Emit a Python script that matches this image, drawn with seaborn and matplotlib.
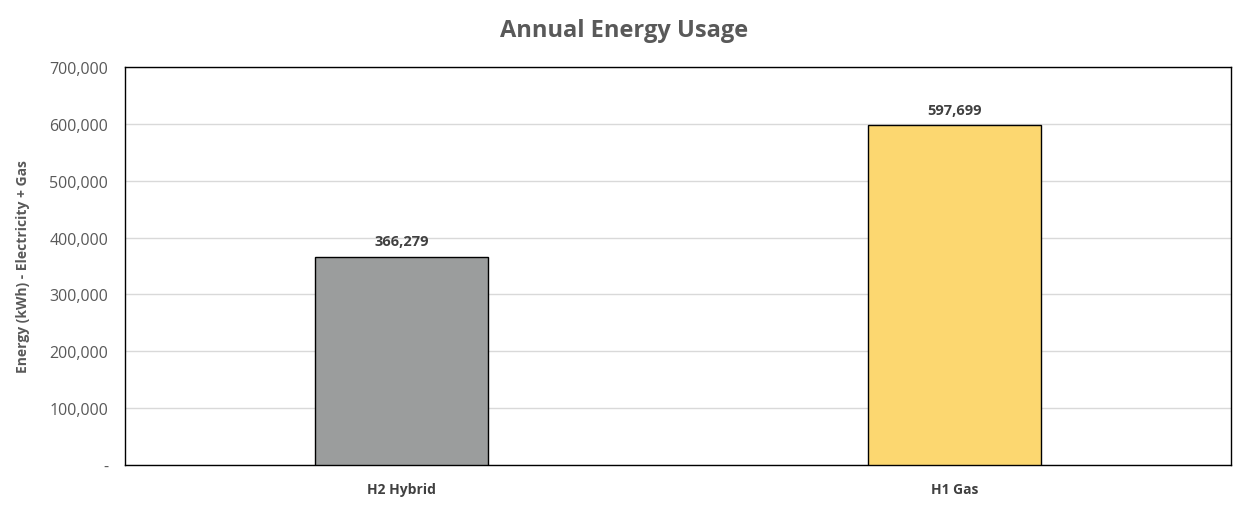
import numpy as np
import pandas as pd
import seaborn as sns
import matplotlib.pyplot as plt
from matplotlib.ticker import FuncFormatter

# chart data
categories = ['H2 Hybrid', 'H1 Gas']
energy_kwh = [366279, 597699]
bar_colors = ['#9B9D9D', '#FCD770']

sns.set_theme(style='white')
plt.rcParams['font.family'] = ['Open Sans', 'DejaVu Sans']

df = pd.DataFrame({'case': categories, 'energy': energy_kwh})

fig = plt.figure(figsize=(12.48, 5.06), dpi=100)
ax = fig.add_axes([125 / 1248, 1 - 466 / 506, 1106 / 1248, 398 / 506])

sns.barplot(data=df, x='case', y='energy', hue='case', palette=bar_colors,
            saturation=1, width=0.313, edgecolor='black', linewidth=1.0,
            legend=False, ax=ax, zorder=3)

ax.set_ylim(0, 700000)
ax.set_xlim(-0.5, 1.5)
ax.set_yticks(np.arange(0, 700001, 100000))
ax.yaxis.set_major_formatter(FuncFormatter(lambda v, p: '-' if v == 0 else f'{int(v):,}'))
ax.grid(axis='y', color='#D9D9D9', linewidth=1.0, zorder=0)
ax.set_axisbelow(True)

for s in ax.spines.values():
    s.set_visible(True)
    s.set_color('black')
    s.set_linewidth(1.0)

ax.tick_params(axis='y', labelsize=11.5, colors='#595959', length=0, pad=12)
ax.tick_params(axis='x', labelsize=10, colors='#404040', length=0, pad=12)
for lbl in ax.get_xticklabels():
    lbl.set_fontweight('bold')

ax.set_xlabel('')
ax.set_ylabel('Energy (kWh) - Electricity + Gas', fontsize=10, fontweight='bold',
              color='#595959', labelpad=14)

for i, v in enumerate(energy_kwh):
    ax.annotate(f'{v:,}', (i, v), xytext=(0, 6), textcoords='offset points',
                ha='center', va='bottom', fontsize=10.5, fontweight='bold', color='#404040')

fig.suptitle('Annual Energy Usage', fontsize=17, fontweight='bold', color='#595959', y=0.962)

fig.savefig('out.png', dpi=100)
